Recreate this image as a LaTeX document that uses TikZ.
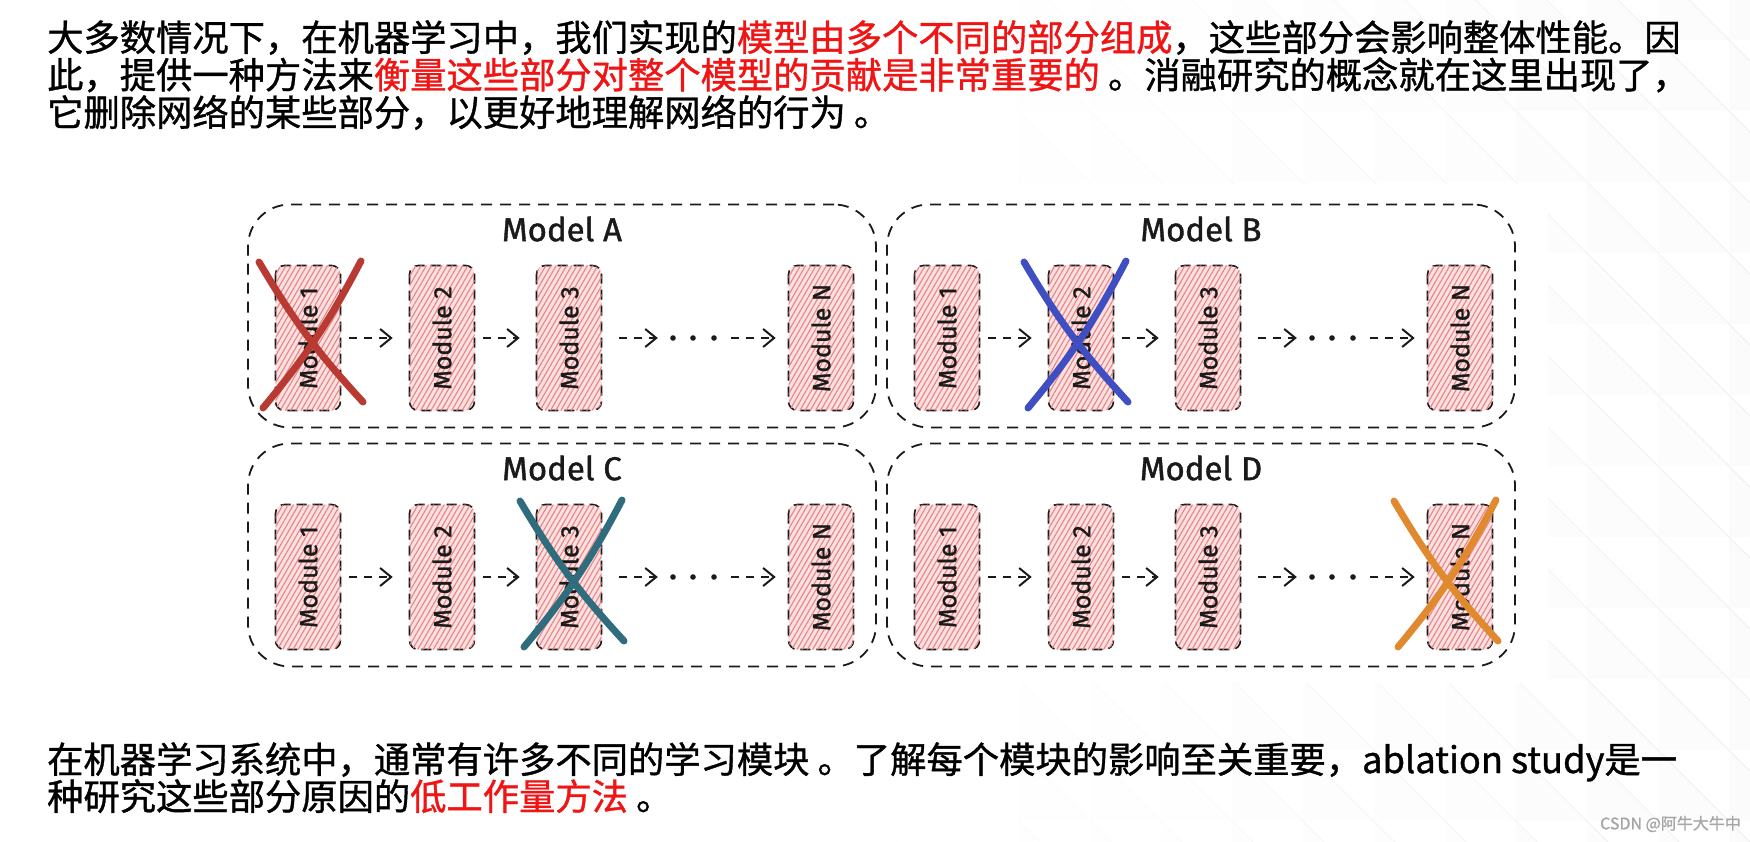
\documentclass[tikz,border=0pt]{standalone}
\usepackage{fontspec}
\usetikzlibrary{arrows.meta,positioning,patterns.meta}
\newfontfamily\cjk{Noto Sans CJK SC}[FakeBold=1]
\newfontfamily\sketch{Fira Sans}[FakeBold=1.2]
\definecolor{ink}{HTML}{1A1A1A}
\definecolor{hired}{HTML}{F01414}
\definecolor{hatch}{HTML}{E88484}
\definecolor{blush}{HTML}{FAE0E0}
\definecolor{crossA}{HTML}{B93A32}
\definecolor{crossB}{HTML}{3F4FC2}
\definecolor{crossC}{HTML}{2E6C7E}
\definecolor{crossD}{HTML}{E0892F}
\definecolor{tile}{HTML}{9A9A9A}

\begin{document}
\begin{tikzpicture}[x=1pt,y=-1pt,
    modelbox/.style={draw=ink,line width=1.8pt,dash pattern=on 11pt off 8pt,rounded corners=42pt,minimum width=628pt,minimum height=223pt},
    modbox/.style={draw=ink,line width=1.6pt,dash pattern=on 10pt off 6pt,rounded corners=9pt,fill=blush,
      postaction={pattern={Lines[angle=60,distance=4.5pt,line width=1.1pt]},pattern color=hatch},
      rotate=90,minimum width=145pt,minimum height=65pt,inner sep=0pt,text=ink,font=\sketch\fontsize{25}{25}\selectfont},
    flow/.style={draw=ink,line width=2pt,dash pattern=on 8pt off 7pt,-{Straight Barb[length=11pt,width=18pt]}},
    dotnode/.style={minimum width=50pt,minimum height=10pt,inner sep=0pt},
    cross/.style={line width=7pt,line cap=round},
    para/.style={anchor=base west,inner sep=0pt,font=\cjk\fontsize{36.3}{36.3}\selectfont}]
    \useasboundingbox (0,0) rectangle (1750,842);
    % faint tiled background
    \foreach \c in {12,...,24}
      \foreach \r in {-1,...,11}{
        \pgfmathsetmacro\op{0.14*(\c-11)/13}
        \fill[tile,opacity=\op/4] (25+71*\c,40+71*\r) -- ++(71,71) -- ++(-71,0) -- cycle;
        \draw[tile,opacity=\op,line width=0.8pt] (25+71*\c,40+71*\r) -- ++(71,71);
      }
    \fill[white] (232,184) rectangle (1548,683);

    % the four ablated models
    \foreach \m/\dx/\dy/\cut/\col/\sx in {A/0/0/1/crossA/3,B/639/0/2/crossB/-5,C/0/239/3/crossC/3,D/639/239/n/crossD/-14}{
      \node[modelbox] (box\m) at (562+\dx,316+\dy) {};
      \node[text=ink,font=\sketch\fontsize{33}{33}\selectfont] (title\m) at (562+\dx,229+\dy) {Model \m};
      \node[modbox] (\m-1) at (308+\dx,338+\dy) {Module 1};
      \node[modbox] (\m-2) at (442+\dx,338+\dy) {Module 2};
      \node[modbox] (\m-3) at (569+\dx,338+\dy) {Module 3};
      \node[modbox] (\m-n) at (821+\dx,338+\dy) {Module N};
      \node[dotnode] (\m-dots) at (693+\dx,338+\dy) {};
      \draw[flow,shorten <=8pt,shorten >=16pt] (\m-1) -- (\m-2);
      \draw[flow,shorten <=8pt,shorten >=16pt] (\m-2) -- (\m-3);
      \draw[flow,shorten <=17pt,shorten >=10pt] (\m-3) -- (\m-dots);
      \draw[flow,shorten <=13pt,shorten >=12pt] (\m-dots) -- (\m-n);
      \foreach \k in {-20,0,21}
        \fill[ink] ([xshift=\k pt]\m-dots.center) circle (2.8);
      % cross out one module
      \draw[cross,\col] ([shift={(-52+\sx,-76)}]\m-\cut.center) to[bend right=6] ([shift={(52+\sx,64)}]\m-\cut.center);
      \draw[cross,\col] ([shift={(50+\sx,-77)}]\m-\cut.center) to[bend left=6] ([shift={(-48+\sx,70)}]\m-\cut.center);
    }

    \node[para] (t1) at (47,51) {大多数情况下，在机器学习中，我们实现的\textcolor{hired}{模型由多个不同的部分组成}，这些部分会影响整体性能。因};
    \node[para] (t2) at (47,88.5) {此，提供一种方法来\textcolor{hired}{衡量这些部分对整个模型的贡献是非常重要的} 。消融研究的概念就在这里出现了，};
    \node[para] (t3) at (47,126) {它删除网络的某些部分，以更好地理解网络的行为 。};
    \node[para] (b1) at (47,773) {在机器学习系统中，通常有许多不同的学习模块 。了解每个模块的影响至关重要，ablation study是一};
    \node[para] (b2) at (47,810) {种研究这些部分原因的\textcolor{hired}{低工作量方法} 。};
    \node[anchor=east,inner sep=0pt,text=gray!70,font=\cjk\fontsize{16}{16}\selectfont] (mark) at (1741,824) {CSDN @阿牛大牛中};
  \end{tikzpicture}
\end{document}
